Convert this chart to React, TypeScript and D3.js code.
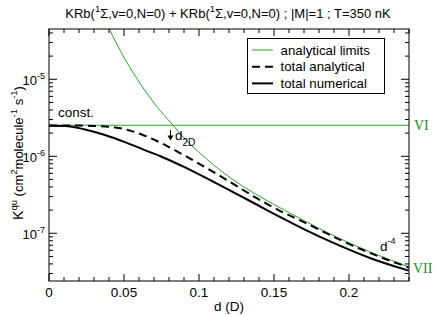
import React, { useEffect, useRef } from "react";
import * as d3 from "d3";

// values
const dConst = [0, 0.24];
const kConst = [2.53e-6, 2.53e-6];

const dLimit = [0.038, 0.0484, 0.0589, 0.0762, 0.0826, 0.0873, 0.1051, 0.1228, 0.1395, 0.1586, 0.1692, 0.1919, 0.2139, 0.2398];
const kLimit = [5.5e-5, 2.19e-5, 1.0e-5, 3.5e-6, 2.55e-6, 1.98e-6, 9.2e-7, 4.95e-7, 3.08e-7, 1.92e-7, 1.49e-7, 8.9e-8, 5.74e-8, 3.68e-8];

const dAnalytic = [0, 0.0173, 0.0306, 0.044, 0.0526, 0.0626, 0.074, 0.0893, 0.1053, 0.1206, 0.1379, 0.1539, 0.1692, 0.1919, 0.2139, 0.2398];
const kAnalytic = [2.51e-6, 2.51e-6, 2.48e-6, 2.37e-6, 2.2e-6, 1.89e-6, 1.51e-6, 1.05e-6, 7.0e-7, 4.65e-7, 2.9e-7, 1.96e-7, 1.42e-7, 8.6e-8, 5.56e-8, 3.6e-8];

const dNumeric = [0, 0.0107, 0.024, 0.0373, 0.0506, 0.0626, 0.074, 0.0893, 0.1053, 0.1206, 0.1359, 0.1539, 0.1692, 0.1919, 0.2139, 0.2398];
const kNumeric = [2.49e-6, 2.48e-6, 2.23e-6, 1.89e-6, 1.53e-6, 1.23e-6, 1.01e-6, 7.38e-7, 5.15e-7, 3.6e-7, 2.51e-7, 1.63e-7, 1.15e-7, 7.16e-8, 4.78e-8, 3.27e-8];

const xMajor = [0, 0.05, 0.1, 0.15, 0.2];
const xMajorLabels = ["0", "0.05", "0.1", "0.15", "0.2"];
const yMajor = [1e-5, 1e-6, 1e-7];
const yMajorExp = ["-5", "-6", "-7"];

const legendNames = ["analytical limits", "total analytical", "total numerical"];

const W = 436, H = 315;
const margin = { top: 29, right: 27, bottom: 34, left: 49 };
const GREEN = "#2aa62a";
const GREEN_TXT = "#1b8e1b";
const FONT = "Liberation Sans, Arial, sans-serif";

export default function App() {
  const ref = useRef<SVGSVGElement>(null);

  useEffect(() => {
    const svg = d3.select(ref.current);
    svg.selectAll("*").remove();
    const pw = W - margin.left - margin.right;
    const ph = H - margin.top - margin.bottom;
    const x = d3.scaleLinear().domain([0, 0.24]).range([margin.left, margin.left + pw]);
    const y = d3.scaleLog().domain([2.4e-8, 4.5e-5]).range([margin.top + ph, margin.top]);

    svg.append("defs").append("clipPath").attr("id", "plotclip")
      .append("rect").attr("x", margin.left).attr("y", margin.top).attr("width", pw).attr("height", ph);

    const line = d3.line<[number, number]>()
      .x((d) => x(d[0]))
      .y((d) => y(d[1]))
      .curve(d3.curveMonotoneX);
    const pairs = (ds: number[], ks: number[]) => ds.map((d, i) => [d, ks[i]] as [number, number]);

    const g = svg.append("g").attr("clip-path", "url(#plotclip)");
    g.append("path").attr("d", line(pairs(dConst, kConst))).attr("fill", "none")
      .attr("stroke", GREEN).attr("stroke-width", 1);
    g.append("path").attr("d", line(pairs(dLimit, kLimit))).attr("fill", "none")
      .attr("stroke", GREEN).attr("stroke-width", 1);
    g.append("path").attr("d", line(pairs(dAnalytic, kAnalytic))).attr("fill", "none")
      .attr("stroke", "#000").attr("stroke-width", 2).attr("stroke-dasharray", "8,5");
    g.append("path").attr("d", line(pairs(dNumeric, kNumeric))).attr("fill", "none")
      .attr("stroke", "#000").attr("stroke-width", 2);

    // frame
    svg.append("rect").attr("x", margin.left).attr("y", margin.top).attr("width", pw).attr("height", ph)
      .attr("fill", "none").attr("stroke", "#000").attr("stroke-width", 1);

    // x ticks (inside, bottom and top)
    const xMinor = d3.range(0, 0.2401, 0.01);
    const top = margin.top, bot = margin.top + ph;
    xMinor.forEach((v) => {
      const major = xMajor.some((m) => Math.abs(m - v) < 1e-9);
      const len = major ? 7 : 4;
      svg.append("line").attr("x1", x(v)).attr("x2", x(v)).attr("y1", bot).attr("y2", bot - len).attr("stroke", "#000");
      svg.append("line").attr("x1", x(v)).attr("x2", x(v)).attr("y1", top).attr("y2", top + len).attr("stroke", "#000");
    });
    xMajor.forEach((v, i) => {
      svg.append("text").attr("x", x(v)).attr("y", bot + 16).attr("text-anchor", "middle")
        .attr("font-family", FONT).attr("font-size", 13.5).text(xMajorLabels[i]);
    });
    svg.append("text").attr("x", margin.left + pw / 2).attr("y", H - 4).attr("text-anchor", "middle")
      .attr("font-family", FONT).attr("font-size", 13.5).text("d (D)");

    // y ticks (inside, left and right)
    const left = margin.left, right = margin.left + pw;
    const [y0, y1] = y.domain();
    for (let e = -8; e <= -5; e++) {
      for (let m = 1; m <= 9; m++) {
        const v = m * Math.pow(10, e);
        if (v < y0 || v > y1) continue;
        const len = m === 1 ? 8 : 4;
        svg.append("line").attr("x1", left).attr("x2", left + len).attr("y1", y(v)).attr("y2", y(v)).attr("stroke", "#000");
        svg.append("line").attr("x1", right).attr("x2", right - len).attr("y1", y(v)).attr("y2", y(v)).attr("stroke", "#000");
      }
    }
    yMajor.forEach((v, i) => {
      const t = svg.append("text").attr("x", left - 4).attr("y", y(v) + 6).attr("text-anchor", "end")
        .attr("font-family", FONT).attr("font-size", 13);
      t.append("tspan").text("10");
      t.append("tspan").attr("dy", -6).attr("font-size", 9).text(yMajorExp[i]);
    });

    // y axis title
    const yt = svg.append("text")
      .attr("transform", `translate(23, ${margin.top + ph / 2 - 2}) rotate(-90)`)
      .attr("text-anchor", "middle").attr("font-family", FONT).attr("font-size", 13);
    const sup = (sel: any, s: string) => sel.append("tspan").attr("dy", -6).attr("font-size", 9.5).text(s);
    const base = (sel: any, s: string) => sel.append("tspan").attr("dy", 6).text(s);
    yt.append("tspan").attr("font-size", 14).text("K");
    sup(yt, "qu");
    base(yt, " (cm");
    sup(yt, "2");
    base(yt, "molecule");
    sup(yt, "-1");
    base(yt, " s");
    sup(yt, "-1");
    base(yt, ")");

    // title
    const tt = svg.append("text").attr("x", 228).attr("y", 18).attr("text-anchor", "middle")
      .attr("font-family", FONT).attr("font-size", 13);
    const tsup = (s: string) => tt.append("tspan").attr("dy", -6).attr("font-size", 9.5).text(s);
    const tbase = (s: string) => tt.append("tspan").attr("dy", 6).text(s);
    tt.append("tspan").text("KRb(");
    tsup("1");
    tbase("Σ,v=0,N=0) + KRb(");
    tsup("1");
    tbase("Σ,v=0,N=0) ; |M|=1 ; T=350 nK");

    // legend
    const lg = svg.append("g");
    lg.append("rect").attr("x", 247.5).attr("y", 38.5).attr("width", 137).attr("height", 55)
      .attr("fill", "#fff").attr("stroke", "#000");
    const styles = [
      { stroke: GREEN, w: 1, dash: null as string | null },
      { stroke: "#000", w: 2, dash: "8,5" },
      { stroke: "#000", w: 2, dash: null },
    ];
    legendNames.forEach((name, i) => {
      const ly = 50 + i * 16.7;
      lg.append("line").attr("x1", 252).attr("x2", 273).attr("y1", ly).attr("y2", ly)
        .attr("stroke", styles[i].stroke).attr("stroke-width", styles[i].w)
        .attr("stroke-dasharray", styles[i].dash);
      lg.append("text").attr("x", 280.5).attr("y", ly + 4.5).attr("font-family", FONT)
        .attr("font-size", 13.3).text(name);
    });

    // annotations
    svg.append("text").attr("x", 58).attr("y", 117).attr("font-family", FONT).attr("font-size", 13.5).text("const.");
    svg.append("line").attr("x1", 170.5).attr("x2", 170.5).attr("y1", 130).attr("y2", 139).attr("stroke", "#000");
    svg.append("path").attr("d", "M167.5,135.5 L170.5,140.5 L173.5,135.5 Z").attr("fill", "#000");
    const dd = svg.append("text").attr("x", 175).attr("y", 140).attr("font-family", FONT).attr("font-size", 13.5);
    dd.append("tspan").text("d");
    dd.append("tspan").attr("dy", 6).attr("font-size", 10).text("2D");
    const d4 = svg.append("text").attr("x", 380).attr("y", 251).attr("font-family", FONT).attr("font-size", 13.5);
    d4.append("tspan").text("d");
    d4.append("tspan").attr("dy", -7).attr("font-size", 9).text("-4");

    svg.append("text").attr("x", 414).attr("y", 130).attr("font-family", "Liberation Serif, Times New Roman, serif")
      .attr("font-size", 14).attr("fill", GREEN_TXT).text("VI");
    svg.append("text").attr("x", 413).attr("y", 273).attr("font-family", "Liberation Serif, Times New Roman, serif")
      .attr("font-size", 14).attr("fill", GREEN_TXT).text("VII");
  }, []);

  return (
    <svg
      ref={ref}
      width={W}
      height={H}
      style={{ position: "absolute", left: 0, top: 0, display: "block", background: "#fff" }}
    />
  );
}
